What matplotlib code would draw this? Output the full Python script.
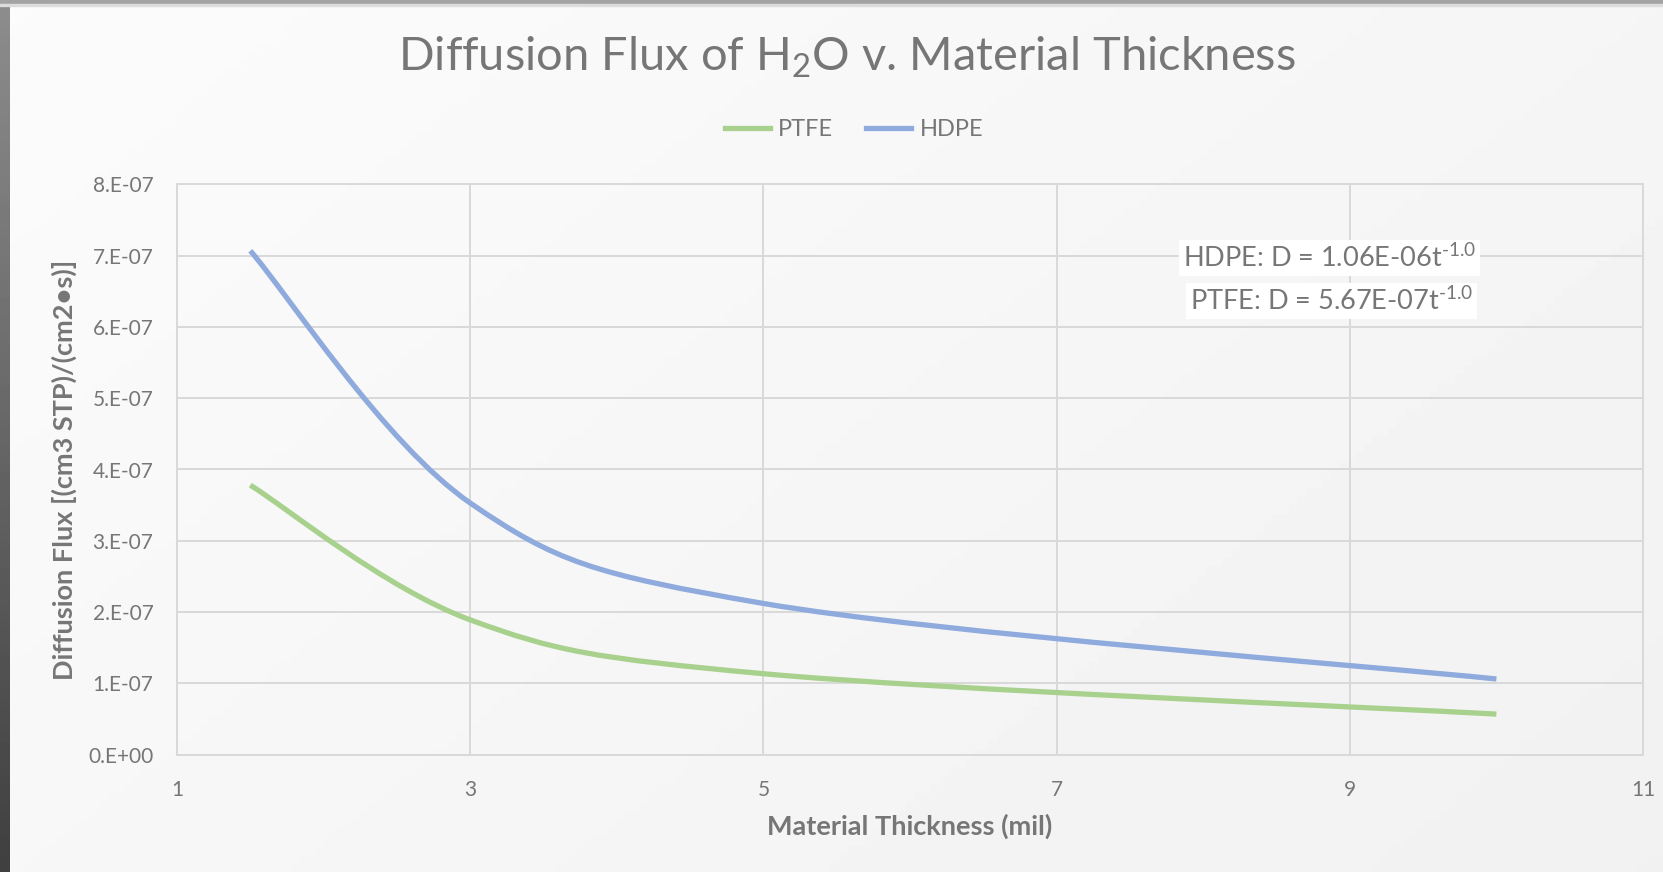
import numpy as np
import matplotlib.pyplot as plt
from matplotlib.path import Path
from matplotlib.patches import PathPatch, Rectangle
from matplotlib.lines import Line2D

plt.rcParams['font.family'] = ['Lato', 'DejaVu Sans']
plt.rcParams['mathtext.fontset'] = 'custom'
plt.rcParams['mathtext.rm'] = 'Lato'
plt.rcParams['mathtext.it'] = 'Lato:italic'

# data
thickness = [1.5, 3, 5, 10]
ptfe = [3.78e-07, 1.89e-07, 1.134e-07, 5.67e-08]
hdpe = [7.07e-07, 3.53e-07, 2.12e-07, 1.06e-07]
x_ticks = [1, 3, 5, 7, 9, 11]
y_ticks = [0, 1e-07, 2e-07, 3e-07, 4e-07, 5e-07, 6e-07, 7e-07, 8e-07]
y_labels = ['0.E+00', '1.E-07', '2.E-07', '3.E-07', '4.E-07', '5.E-07', '6.E-07', '7.E-07', '8.E-07']
fit_text = ['HDPE: D = 1.06E-06t$^{\\text{-1.0}}$', 'PTFE: D = 5.67E-07t$^{\\text{-1.0}}$']

c_ptfe = '#a9d18e'
c_hdpe = '#8faadc'
txt = '#767676'
grid = '#d9d9d9'


def smooth_path(xs, ys):
    # excel style smoothed line: bezier through each point, control points from neighbours
    p = np.column_stack([xs, ys]).astype(float)
    verts = [p[0]]
    codes = [Path.MOVETO]
    n = len(p)
    for i in range(n - 1):
        prev = p[i - 1] if i > 0 else p[i]
        nxt = p[i + 2] if i + 2 < n else p[i + 1]
        c1 = p[i] + (p[i + 1] - prev) / 6
        c2 = p[i + 1] - (nxt - p[i]) / 6
        verts += [c1, c2, p[i + 1]]
        codes += [Path.CURVE4] * 3
    return Path(verts, codes)


fig = plt.figure(figsize=(16.63, 8.72), dpi=100)

# background gradient + window frame
bg = fig.add_axes([0, 0, 1, 1], zorder=-10)
gx, gy = np.meshgrid(np.linspace(0, 1, 200), np.linspace(0, 1, 100))
bg.imshow(0.985 - 0.04 * (gx * 0.6 + gy * 0.4), cmap='gray', vmin=0, vmax=1,
          aspect='auto', extent=[0, 1, 0, 1], origin='upper')
bg.add_patch(Rectangle((0, 1 - 4 / 872), 1, 4 / 872, color='#a3a3a3'))
bg.add_patch(Rectangle((0, 1 - 6 / 872), 1, 2 / 872, color='#dcdcdc'))
left_strip = np.linspace(0.55, 0.25, 100).reshape(-1, 1)
bg.imshow(left_strip, cmap='gray', vmin=0, vmax=1, aspect='auto',
          extent=[0, 10 / 1663, 0, 1 - 4 / 872])
bg.set_xlim(0, 1)
bg.set_ylim(0, 1)
bg.axis('off')

ax = fig.add_axes([177 / 1663, 1 - 754.5 / 872, (1643 - 177) / 1663, (754.5 - 184.5) / 872])
ax.set_facecolor('none')

ax.add_patch(PathPatch(smooth_path(thickness, ptfe), fill=False, edgecolor=c_ptfe,
                       lw=3.8, capstyle='butt', zorder=3))
ax.add_patch(PathPatch(smooth_path(thickness, hdpe), fill=False, edgecolor=c_hdpe,
                       lw=3.8, capstyle='butt', zorder=3))

ax.set_xlim(1, 11)
ax.set_ylim(0, 8e-07)
ax.set_xticks(x_ticks)
ax.set_yticks(y_ticks)
ax.set_yticklabels(y_labels)
ax.grid(True, color=grid, lw=1.4)
ax.set_axisbelow(True)
for s in ax.spines.values():
    s.set_color(grid)
    s.set_linewidth(1.4)
ax.tick_params(length=0, labelsize=15, labelcolor=txt)
ax.tick_params(axis='y', pad=17)
ax.tick_params(axis='x', pad=18)

ax.set_xlabel('Material Thickness (mil)', fontsize=19.5, fontweight='bold', color=txt)
ax.set_ylabel('Diffusion Flux [(cm3 STP)/(cm2\u2022s)]', fontsize=19.5, fontweight='bold', color=txt)
ax.xaxis.set_label_coords(0.5, (754.5 - 826) / 570)
ax.yaxis.set_label_coords((64 - 177) / 1466, 0.5)
ax.xaxis.label.set_va('center')
ax.yaxis.label.set_va('center')

fig.text(847 / 1663, 1 - 57 / 872, 'Diffusion Flux of H$_2$O v. Material Thickness',
         ha='center', va='center', fontsize=33.8, color=txt)

handles = [Line2D([], [], color=c_ptfe, lw=3.8), Line2D([], [], color=c_hdpe, lw=3.8)]
fig.legend(handles, ['PTFE', 'HDPE'], loc='center', bbox_to_anchor=(854 / 1663, 1 - 130 / 872),
           ncol=2, frameon=False, fontsize=17, labelcolor=txt, handlelength=1.9,
           handletextpad=0.35, columnspacing=1.4)

# fit equations (trendline labels)
ax.text(0.686, 0.871, fit_text[0], transform=ax.transAxes, ha='left', va='center',
        fontsize=19.5, color=txt, bbox=dict(facecolor='white', edgecolor='none', pad=3))
ax.text(0.691, 0.796, fit_text[1], transform=ax.transAxes, ha='left', va='center',
        fontsize=19.5, color=txt, bbox=dict(facecolor='white', edgecolor='none', pad=3))

fig.savefig('out.png', dpi=100)
